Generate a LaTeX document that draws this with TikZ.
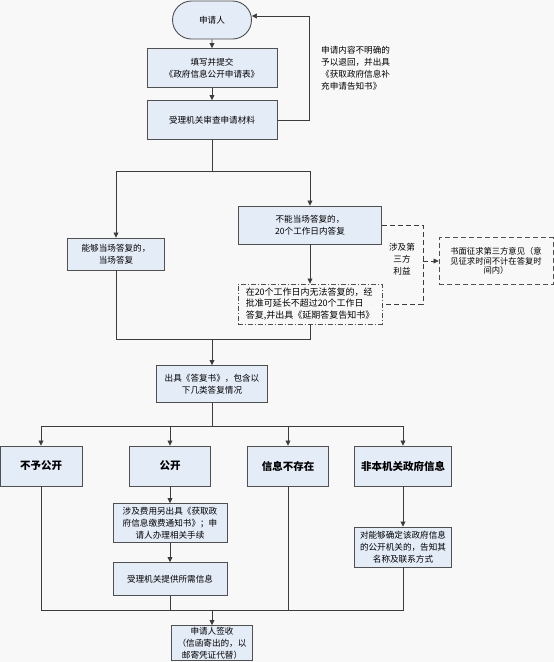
\documentclass[tikz,border=0pt]{standalone}
\usepackage{fontspec}
\setmainfont{Noto Sans CJK SC}
\usetikzlibrary{arrows.meta,shapes.misc}
\definecolor{paper}{RGB}{248,248,248}
\definecolor{boxblue}{RGB}{228,236,247}
\definecolor{edge}{RGB}{80,80,80}
\definecolor{wire}{RGB}{60,60,60}
\tikzset{
  box/.style={draw=edge, fill=boxblue, line width=0.9pt, align=center, inner sep=1pt,
    font=\fontsize{8.6}{12}\selectfont},
  catbox/.style={box, minimum height=40pt, font=\fontsize{10.5}{13}\selectfont\bfseries},
  note/.style={align=center, inner sep=1pt, font=\fontsize{8.6}{12}\selectfont},
  wireline/.style={draw=wire, line width=0.7pt},
  flow/.style={wireline, -{Triangle[length=5pt,width=5pt]}},
  dashline/.style={wireline, dash pattern=on 5pt off 3pt},
}
\begin{document}
\begin{tikzpicture}[x=1pt,y=-1pt]
   \fill[paper] (0,0) rectangle (554,662);
   \useasboundingbox (0,0) rectangle (554,662);
   % top part
   \node[box, rounded rectangle, minimum width=81pt, minimum height=38pt] (app) at (212,20) {申请人};
   \node[box, minimum width=130pt, minimum height=39pt] (fill) at (212,68) {填写并提交\\《政府信息公开申请表》};
   \node[box, minimum width=130pt, minimum height=39pt] (review) at (212,120) {受理机关审查申请材料};
   \node[note, align=left, anchor=north west] (back) at (320,45) {申请内容不明确的\\予以退回，并出具\\《获取政府信息补\\充申请告知书》};
   \coordinate (turn) at (309,16);
   \draw[flow] (app) -- (fill);
   \draw[flow] (fill) -- (review);
   \draw[flow] (review.east) -| (turn) -- (turn -| app.east);
   % answer on the spot or later
   \node[box, minimum width=97pt, minimum height=32pt] (onsite) at (116,254) {能够当场答复的，\\当场答复};
   \node[box, minimum width=143pt, minimum height=38pt] (later) at (310,225) {不能当场答复的，\\20个工作日内答复};
   \node[draw=edge, line width=0.9pt, dash pattern=on 5pt off 2pt on 1pt off 2pt, align=left,
     minimum width=144pt, minimum height=40pt, inner sep=2pt, font=\fontsize{9}{11.5}\selectfont]
     (delay) at (310,304) {在20个工作日内无法答复的，经\\批准可延长不超过20个工作日\\答复,并出具《延期答复告知书》};
   \node[note] (third) at (402,259) {涉及第\\三方\\利益};
   \node[draw=edge, line width=0.9pt, dash pattern=on 5pt off 3pt, align=center,
     minimum width=114pt, minimum height=47pt, inner sep=1pt, font=\fontsize{8.3}{9.5}\selectfont]
     (book) at (496,261) {书面征求第三方意见（意\\见征求时间不计在答复时\\间内）};
   \coordinate (split) at (212,171);
   \coordinate (brtop) at (423,225);
   \coordinate (brbot) at (423,304);
   \coordinate (brmid) at (423,261);
   \draw[wireline] (review) -- (split);
   \draw[flow] (split) -| (onsite.north);
   \draw[flow] (split) -| (later.north);
   \draw[flow] (later) -- (delay);
   \draw[dashline] (later.east) -- (brtop) -- (brbot) -- (delay.east);
   \draw[dashline, -{Triangle[length=5pt,width=5pt]}] (brmid) -- (book.west);
   % reply
   \node[box, minimum width=111pt, minimum height=37pt] (issue) at (212,384) {出具《答复书》，包含以\\下几类答复情况};
   \coordinate (merge) at (212,339);
   \draw[wireline] (onsite.south) |- (merge);
   \draw[wireline] (delay.south) |- (merge);
   \draw[flow] (merge) -- (issue);
   % kinds of reply
   \node[catbox, minimum width=82pt] (nodisc) at (41,466) {不予公开};
   \node[catbox, minimum width=81pt] (disc) at (170,466) {公开};
   \node[catbox, minimum width=81pt] (noexist) at (288,466) {信息不存在};
   \node[catbox, minimum width=97pt] (notours) at (403,466) {非本机关政府信息};
   \coordinate (fan) at (212,426);
   \draw[wireline] (issue) -- (fan);
   \foreach \kind in {nodisc,disc,noexist,notours}
   {
       \draw[flow] (fan) -| (\kind.north);
   }
   \node[box, minimum width=114pt, minimum height=39pt] (fee) at (170,523) {涉及费用另出具《获取政\\府信息缴费通知书》；申\\请人办理相关手续};
   \node[box, minimum width=114pt, minimum height=33pt] (provide) at (170,579) {受理机关提供所需信息};
   \node[box, minimum width=97pt, minimum height=40pt] (refer) at (403,547) {对能够确定该政府信息\\的公开机关的，告知其\\名称及联系方式};
   \draw[flow] (disc) -- (fee);
   \draw[flow] (fee) -- (provide);
   \draw[flow] (notours) -- (refer);
   % receipt
   \node[box, minimum width=81pt, minimum height=35pt] (sign) at (212,643) {申请人签收\\（信函寄出的，以\\邮寄凭证代替）};
   \coordinate (collect) at (212,610);
   \foreach \kind in {nodisc,provide,noexist,refer}
   {
       \draw[wireline] (\kind.south) |- (collect);
   }
   \draw[flow] (collect) -- (sign);
\end{tikzpicture}
\end{document}
